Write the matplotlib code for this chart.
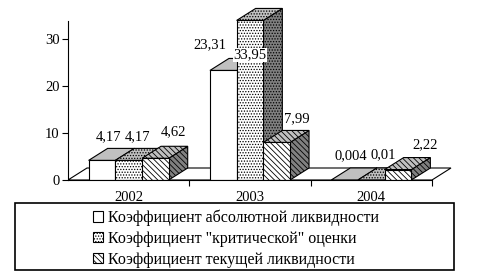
import matplotlib.pyplot as plt
from matplotlib.patches import Polygon, Patch, Rectangle

plt.rcParams['font.family'] = ['Liberation Serif', 'DejaVu Serif']
plt.rcParams['hatch.linewidth'] = 0.6

years = ['2002', '2003', '2004']
series_names = ['Коэффициент абсолютной ликвидности',
                'Коэффициент "критической" оценки',
                'Коэффициент текущей ликвидности']
absolute = [4.17, 23.31, 0.004]
critical = [4.17, 33.95, 0.01]
current = [4.62, 7.99, 2.22]
values = [absolute, critical, current]

# style of each series: front hatch
hatches = [None, '......', '\\\\\\\\\\\\']
# where Excel put each data label, pixels from the top-back centre of the bar
label_offsets = [[(-3, 12), (-23, 13.5), (-3, 12)],
                 [(-1, 11.5), (-9.5, -46.5), (2, 13)],
                 [(9, 14.5), (11, 12), (17.5, 12.5)]]

px_x = 121.33   # pixels per category
px_y = 4.7      # pixels per unit
depth_x = 19 / px_x
depth_y = 12 / px_y
bar_w = 0.22

fig = plt.figure(figsize=(4.95, 2.75), dpi=100)
ax = fig.add_axes([68 / 495, 95 / 275, 402 / 495, 180 / 275])
ax.set_xlim(0, 402 / px_x)
ax.set_ylim(0, 180 / px_y)

# floor
n = len(years)
ax.add_patch(Polygon([(0, 0), (n, 0), (n + depth_x, depth_y), (depth_x, depth_y)],
                     closed=True, facecolor='white', edgecolor='black', lw=0.8, zorder=1))

for i in range(n):
    for j, series in enumerate(values):
        h = series[i]
        x0 = i + 0.5 - 1.5 * bar_w + j * bar_w
        x1 = x0 + bar_w
        side = Polygon([(x1, 0), (x1 + depth_x, depth_y), (x1 + depth_x, h + depth_y), (x1, h)],
                       closed=True, facecolor='#808080', edgecolor='black', hatch=hatches[j],
                       lw=0.8, zorder=2)
        top = Polygon([(x0, h), (x1, h), (x1 + depth_x, h + depth_y), (x0 + depth_x, h + depth_y)],
                      closed=True, facecolor='#c0c0c0', edgecolor='black', hatch=hatches[j],
                      lw=0.8, zorder=2)
        ax.add_patch(side)
        ax.add_patch(top)
        ax.bar(x0, h, bar_w, align='edge', facecolor='white', edgecolor='black',
               hatch=hatches[j], lw=0.8, zorder=2)
        text = f'{h:g}'.replace('.', ',')
        ax.annotate(text, (x0 + bar_w / 2 + depth_x / 2, h + depth_y),
                    xytext=label_offsets[j][i], textcoords='offset pixels',
                    ha='center', va='center', fontsize=10.5, zorder=5,
                    bbox=dict(facecolor='white', edgecolor='none', pad=0.3))

ax.spines['top'].set_visible(False)
ax.spines['right'].set_visible(False)
ax.spines['left'].set_bounds(0, 33.8)
ax.spines['bottom'].set_bounds(0, n)
ax.spines['left'].set_zorder(6)
ax.spines['bottom'].set_zorder(6)

ax.set_yticks([0, 10, 20, 30])
ax.tick_params(axis='y', direction='out', length=4, width=0.8, labelsize=10.5, pad=2)
ax.set_xticks(range(1, n + 1))
ax.set_xticklabels([])
ax.tick_params(axis='x', which='major', direction='out', length=4, width=0.8)
ax.set_xticks([i + 0.5 for i in range(n)], minor=True)
ax.set_xticklabels(years, minor=True)
ax.tick_params(axis='x', which='minor', length=0, labelsize=10.5, pad=8)

# legend frame
fig.add_artist(Rectangle((15 / 495, 5 / 275), 439 / 495, 67 / 275, transform=fig.transFigure,
                         fill=False, edgecolor='black', lw=1.2))
handles = [Patch(facecolor='white', edgecolor='black', hatch=hatches[j], lw=0.8)
           for j in range(len(values))]
fig.legend(handles, series_names, loc='upper left', bbox_to_anchor=(93 / 495, 65.5 / 275),
           frameon=False, borderpad=0, borderaxespad=0, fontsize=11.5,
           handlelength=0.62, handleheight=0.62, handletextpad=0.3, labelspacing=0.3)

fig.savefig('out.png', dpi=100)
